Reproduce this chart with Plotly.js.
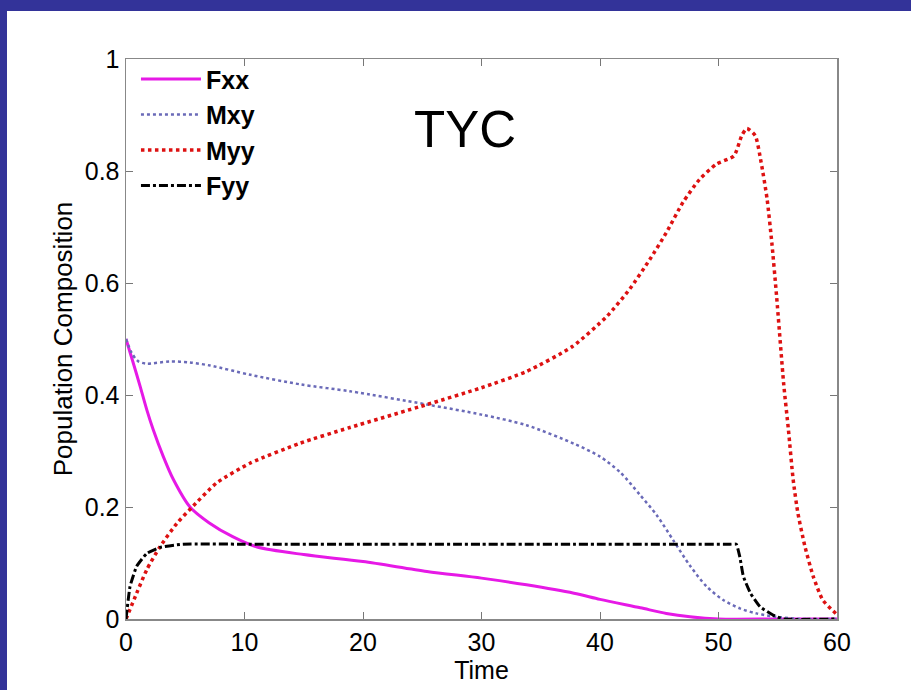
<!DOCTYPE html>
<html>
<head>
<meta charset="utf-8">
<script src="https://cdn.plot.ly/plotly-3.0.1.min.js"></script>
<style>
  html, body { margin: 0; padding: 0; background: #333399; width: 911px; height: 690px; overflow: hidden; }
  #panel { position: absolute; left: 7px; top: 11px; right: 0; bottom: 0; background: #ffffff; }
  #chart { position: absolute; left: 0; top: 0; width: 911px; height: 690px; }
</style>
</head>
<body>
<div id="panel"></div>
<div id="chart"></div>
<script>
// Fxx
const fxxT = [0, 0.6, 1.2, 1.75, 2.3, 3.15, 4.0, 5.4, 7.0, 9.0, 11, 15, 20, 25.4, 30, 33.8, 37.8, 40, 43.4, 45.6, 47.6, 50, 55, 60];
const fxxY = [0.5, 0.458, 0.415, 0.374, 0.338, 0.29, 0.249, 0.2, 0.172, 0.147, 0.129, 0.115, 0.1026, 0.085, 0.073, 0.061, 0.046, 0.035, 0.02, 0.01, 0.004, 0.0, 0.0, 0.0];
// Mxy
const mxyT = [0, 0.48, 1.04, 1.75, 3.7, 5.4, 7.1, 10.5, 14.7, 18.9, 25.4, 30, 33.8, 37.8, 40, 41.7, 43.4, 44.8, 46.2, 47.6, 49.0, 50.4, 51.8, 53.2, 55.2, 57, 60];
const mxyY = [0.5, 0.475, 0.46, 0.456, 0.46, 0.458, 0.4526, 0.436, 0.419, 0.4066, 0.383, 0.365, 0.346, 0.313, 0.29, 0.262, 0.221, 0.185, 0.14, 0.095, 0.058, 0.034, 0.019, 0.010, 0.003, 0.0, 0.0];
// Myy
const myyT = [0, 0.9, 1.75, 2.87, 4.3, 5.5, 7.65, 10.5, 14.7, 18.9, 25.4, 30, 33.8, 37.7, 40.6, 42.5, 44.2, 45.6, 47.0, 48.4, 49.8, 51.3, 51.96, 52.4, 53.1, 53.6, 54.1, 54.5, 54.9, 55.5, 55.9, 56.3, 56.7, 57.3, 58.0, 58.8, 60];
const myyY = [0, 0.046, 0.088, 0.129, 0.171, 0.198, 0.243, 0.2785, 0.314, 0.342, 0.383, 0.413, 0.442, 0.487, 0.541, 0.589, 0.642, 0.69, 0.744, 0.785, 0.812, 0.827, 0.863, 0.876, 0.863, 0.815, 0.75, 0.672, 0.577, 0.42, 0.338, 0.249, 0.189, 0.129, 0.0757, 0.034, 0.008];
// Fyy
const fyyT = [0, 0.34, 0.9, 1.75, 2.87, 4.8, 10, 20, 30, 40, 48, 51, 51.5, 51.8, 52.1, 52.7, 53.5, 54.6, 55.5, 60];
const fyyY = [0, 0.058, 0.094, 0.117, 0.128, 0.1336, 0.1336, 0.1336, 0.1336, 0.1336, 0.1336, 0.1336, 0.1336, 0.111, 0.076, 0.046, 0.022, 0.007, 0.0, 0.0];

const names = ['Fxx', 'Mxy', 'Myy', 'Fyy'];
const xTicks = [0, 10, 20, 30, 40, 50, 60];
const yTicks = [0, 0.2, 0.4, 0.6, 0.8, 1];
const yTickText = ['0', '0.2', '0.4', '0.6', '0.8', '1'];

const traces = [
  {x: fxxT, y: fxxY, name: names[0], legendgroup: 'a', mode: 'lines',
   line: {color: '#e619e6', width: 3, shape: 'spline', smoothing: 0.8}},
  {x: mxyT, y: mxyY, name: names[1], legendgroup: 'b', mode: 'lines',
   line: {color: '#6a6ab8', width: 2.5, dash: 'dot', shape: 'spline', smoothing: 0.8}},
  {x: myyT, y: myyY, name: names[2], legendgroup: 'c', mode: 'lines',
   line: {color: '#dd1111', width: 3.5, dash: 'dot', shape: 'spline', smoothing: 0.6}},
  {x: fyyT, y: fyyY, name: names[3], legendgroup: 'd', mode: 'lines',
   line: {color: '#000000', width: 3, dash: 'dashdot', shape: 'spline', smoothing: 0.4}}
];

const FONT = 'Liberation Sans, Arial, sans-serif';
const axisFont = {family: FONT, size: 25, color: '#000'};

const layout = {
  width: 911, height: 690,
  paper_bgcolor: 'rgba(0,0,0,0)',
  plot_bgcolor: '#ffffff',
  margin: {l: 126, r: 74, t: 59, b: 71},
  showlegend: true,
  legend: {x: 0.014, y: 1.005, xanchor: 'left', yanchor: 'top', bgcolor: 'rgba(0,0,0,0)',
           font: {family: FONT, size: 25, color: '#000', weight: 'bold'},
           itemwidth: 60, tracegroupgap: 0},
  xaxis: {range: [0, 60], tickvals: xTicks, ticktext: xTicks.map(String),
          ticks: 'inside', ticklen: 7, tickcolor: '#777', showline: true, linecolor: '#888', linewidth: 1.5,
          mirror: 'ticks', showgrid: false, zeroline: false, tickfont: axisFont,
          title: {text: 'Time', font: {family: FONT, size: 25, color: '#000'}, standoff: 1}},
  yaxis: {range: [0, 1], tickvals: yTicks, ticktext: yTickText,
          ticks: 'inside', ticklen: 7, tickcolor: '#777', showline: true, linecolor: '#888', linewidth: 1.5,
          mirror: 'ticks', showgrid: false, zeroline: false, tickfont: axisFont,
          title: {text: 'Population Composition', font: {family: FONT, size: 26, color: '#000'}, standoff: 4}},
  annotations: [{x: 28.6, y: 0.875, xref: 'x', yref: 'y', text: 'TYC', showarrow: false,
                 font: {family: FONT, size: 51, color: '#000'}}]
};

Plotly.newPlot('chart', traces, layout, {displayModeBar: false, staticPlot: true});
</script>
</body>
</html>
